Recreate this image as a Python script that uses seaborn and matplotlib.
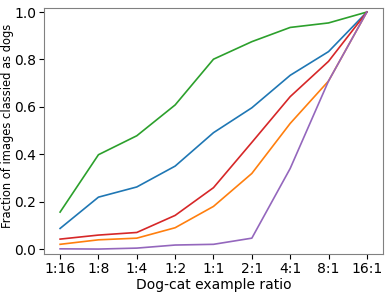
import pandas as pd
import seaborn as sns
import matplotlib
matplotlib.use("Agg")
import matplotlib.pyplot as plt

# Dog-cat ratios on the x axis
ratios = ['1:16', '1:8', '1:4', '1:2', '1:1', '2:1', '4:1', '8:1', '16:1']

# Fraction classified as dogs, one list per line (tab10 order)
blue = [0.087, 0.219, 0.262, 0.350, 0.491, 0.596, 0.733, 0.833, 1.0]
orange = [0.020, 0.039, 0.046, 0.090, 0.180, 0.319, 0.530, 0.709, 1.0]
green = [0.156, 0.398, 0.478, 0.608, 0.801, 0.875, 0.935, 0.954, 1.0]
red = [0.042, 0.059, 0.070, 0.142, 0.259, 0.450, 0.643, 0.792, 1.0]
purple = [0.001, 0.000, 0.004, 0.017, 0.020, 0.046, 0.340, 0.709, 1.0]

series = {'a': blue, 'b': orange, 'c': green, 'd': red, 'e': purple}
colors = ['#1f77b4', '#ff7f0e', '#2ca02c', '#d62728', '#9467bd']

rows = []
for name, vals in series.items():
    for i, v in enumerate(vals):
        rows.append({'series': name, 'pos': i, 'frac': v})
df = pd.DataFrame(rows)

fig, ax = plt.subplots(figsize=(3.91, 2.92), dpi=100)
fig.subplots_adjust(left=0.1125, right=0.9795, top=0.9726, bottom=0.130)

sns.lineplot(data=df, x='pos', y='frac', hue='series', palette=colors,
             linewidth=1.2, legend=False, ax=ax)

ax.set_xticks(range(len(ratios)))
ax.set_xticklabels(ratios)
ax.set_xlim(-0.42, 8.42)
ax.set_ylim(-0.021, 1.017)
ax.set_yticks([0.0, 0.2, 0.4, 0.6, 0.8, 1.0])
ax.set_xlabel('Dog-cat example ratio', fontsize=10, labelpad=2)
ax.set_ylabel('Fraction of images classied as dogs', fontsize=8.3)
ax.yaxis.set_label_coords(-0.087, 0.52)
ax.tick_params(labelsize=10, length=3.5, pad=2)
for s in ax.spines.values():
    s.set_color('0.5')

plt.savefig('out.png', dpi=100)
plt.close()
